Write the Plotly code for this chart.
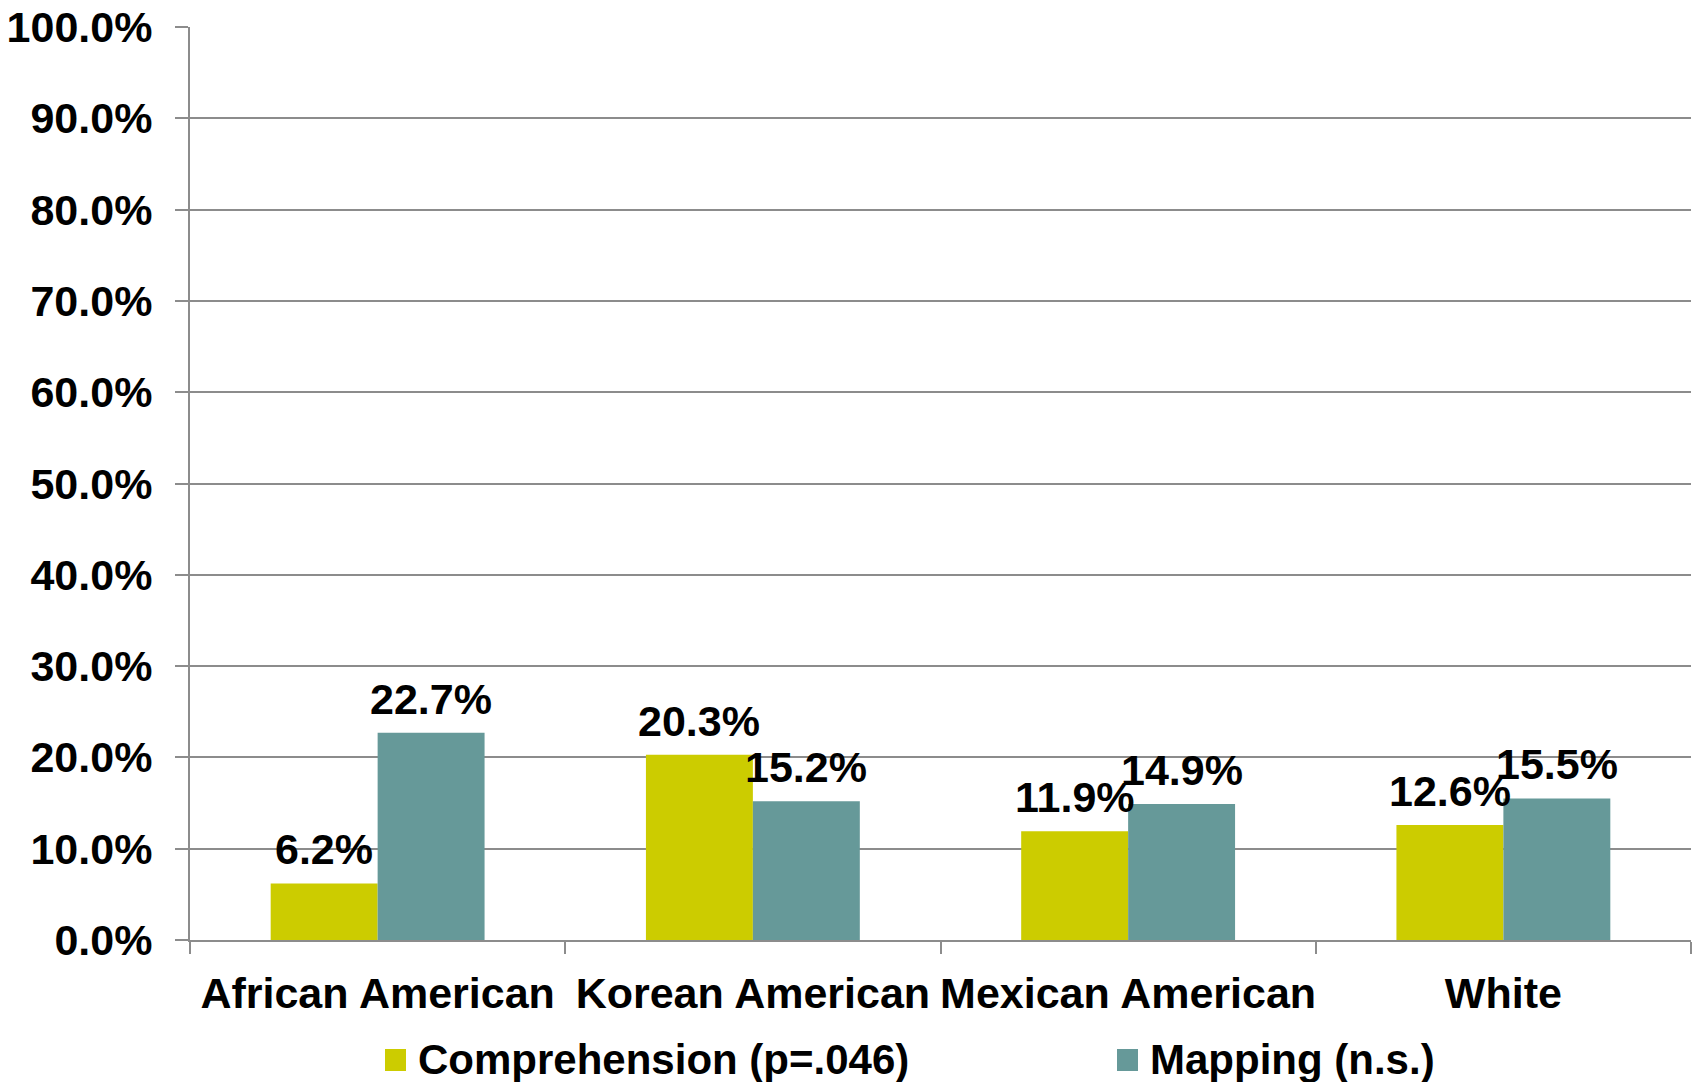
import plotly.graph_objects as go

categories = ["African American", "Korean American", "Mexican American", "White"]
series_names = ["Comprehension (p=.046)", "Mapping (n.s.)"]
comprehension = [6.2, 20.3, 11.9, 12.6]
mapping = [22.7, 15.2, 14.9, 15.5]
colors = ["#CCCC00", "#669999"]
y_ticks = [0, 10, 20, 30, 40, 50, 60, 70, 80, 90, 100]

W, H = 1694, 1082
L, R, T, B = 190, 3, 27, 142
FONT = "Liberation Sans, Arial, sans-serif"
FS = 43
GRAY = "#8C8C8C"
BARGAP = 0.43

fig = go.Figure()
for name, vals, col in zip(series_names, [comprehension, mapping], colors):
    fig.add_trace(go.Bar(
        x=categories, y=vals, name=name,
        marker=dict(color=col, line=dict(width=0)),
        showlegend=False,
    ))

pw, ph = W - L - R, H - T - B
cat_w = pw / len(categories)
bar_w = cat_w * (1 - BARGAP) / 2

# data labels above each bar
for si, vals in enumerate([comprehension, mapping]):
    shift = (si - 0.5) * bar_w
    for c, v in zip(categories, vals):
        fig.add_annotation(x=c, y=v, xref="x", yref="y", text=f"{v:.1f}%",
                           showarrow=False, xanchor="center", yanchor="bottom",
                           xshift=shift, yshift=8,
                           font=dict(family=FONT, size=FS, color="black", weight="bold"))

fig.update_layout(
    width=W, height=H,
    margin=dict(l=L, r=R, t=T, b=B),
    paper_bgcolor="white", plot_bgcolor="white",
    barmode="group", bargap=BARGAP, bargroupgap=0,
    font=dict(family=FONT, size=FS, color="black", weight="bold"),
    showlegend=False,
)
fig.update_yaxes(
    range=[0, 100], tickvals=y_ticks,
    ticktext=[f"{v:.1f}%" for v in y_ticks],
    showgrid=True, gridcolor=GRAY, gridwidth=2,
    showline=True, linecolor=GRAY, linewidth=2,
    ticks="outside", ticklen=13, tickcolor=GRAY, tickwidth=2,
    ticklabelstandoff=14,
    zeroline=False, automargin=False,
    tickfont=dict(family=FONT, size=FS, color="black", weight="bold"),
)
fig.update_xaxes(
    showline=True, linecolor=GRAY, linewidth=2,
    ticks="outside", tickson="boundaries", ticklen=12, tickcolor=GRAY, tickwidth=2,
    ticklabelstandoff=14, tickangle=0, automargin=False,
    tickfont=dict(family=FONT, size=FS, color="black", weight="bold"),
)

# manual legend
def px_x(p): return (p - L) / pw
def px_y(p): return (H - B - p) / ph

legend_sq_left = [385, 1117]
for name, col, x0 in zip(series_names, colors, legend_sq_left):
    fig.add_shape(type="rect", xref="paper", yref="paper",
                  x0=px_x(x0), x1=px_x(x0 + 21), y0=px_y(1049), y1=px_y(1071),
                  fillcolor=col, line=dict(width=0))
    fig.add_annotation(xref="paper", yref="paper", x=px_x(x0 + 31), y=px_y(1059),
                       text=name, showarrow=False, xanchor="left", yanchor="middle",
                       font=dict(family=FONT, size=42, color="black", weight="bold"))

fig.write_html("out.html")
